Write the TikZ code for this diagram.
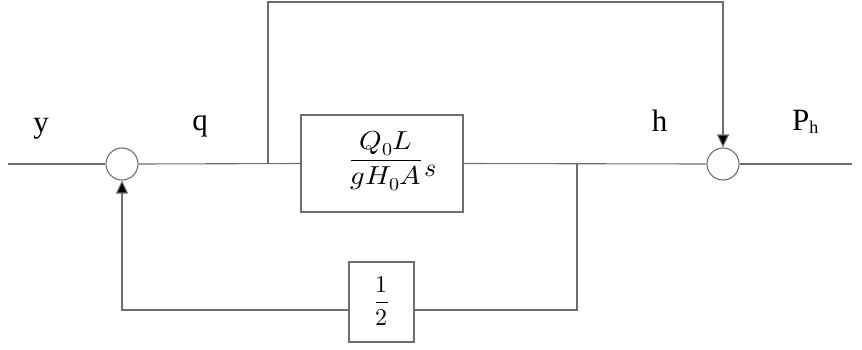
\documentclass[tikz,border=0pt]{standalone}
\usepackage{graphicx}
\usepackage{fontspec}
\usepackage{unicode-math}
\setmainfont{Liberation Serif}
\setmathfont{Latin Modern Math}
\usetikzlibrary{arrows.meta}
\definecolor{ln}{RGB}{110,110,110}
\tikzset{
  wire/.style={draw=ln, line width=1.1pt},
  arr/.style={wire, -{Triangle[length=13pt,width=12pt,fill=black]}},
  sumnode/.style={circle, draw=ln, line width=1.1pt, minimum size=32pt, inner sep=0pt, fill=white},
  blk/.style={rectangle, draw=ln, line width=1.1pt, inner sep=0pt, fill=white},
  lbl/.style={font=\fontsize{31}{36}\selectfont, inner sep=0pt, anchor=base},
  mth/.style={font=\fontsize{26}{30}\selectfont, inner sep=0pt}
}
\begin{document}
\begin{tikzpicture}[x=1pt,y=-1pt]
\useasboundingbox (0,0) rectangle (862,349);
% nodes
\node[sumnode] (s1) at (122,164) {};
\node[sumnode] (s2) at (723,164) {};
\node[blk, minimum width=162pt, minimum height=97pt] (b1) at (382,163.5) {};
\node[mth] (b1t) at (386,161) {\scalebox{1.1}[1]{$\dfrac{Q_0L}{gH_0A}$}};
\node[mth, anchor=base] (b1s) at (431,176) {$s$};
\node[blk, minimum width=65pt, minimum height=80pt] (b2) at (381.5,302) {};
\node[font=\fontsize{24}{28}\selectfont, inner sep=0pt] (b2t) at (381.5,301) {$\dfrac{1}{2}$};
% coordinates
\coordinate (in) at (8,164);
\coordinate (out) at (852,164);
\coordinate (br1) at (268,164);
\coordinate (top1) at (268,2);
\coordinate (top2) at (723,2);
\coordinate (br2) at (577,164);
\coordinate (bot2) at (577,310);
\coordinate (bot1) at (122,310);
% labels
\node[lbl] (ly) at (41,132) {y};
\node[lbl] (lq) at (200,130) {q};
\node[lbl] (lh) at (659.5,131) {h};
\node[lbl, anchor=base west] (lp) at (792,130) {P\raisebox{-3pt}{\fontsize{18}{20}\selectfont h}};
% wires
\draw[wire] (in) -- (s1.west);
\draw[wire] (s1.east) -- (b1.west);
\draw[wire] (b1.east) -- (s2.west);
\draw[wire] (s2.east) -- (out);
\draw[arr] (br1) -- (top1) -- (top2) -- (s2.north);
\draw[wire] (br2) -- (bot2) -- (bot2 -| b2.east);
\draw[arr] (bot2 -| b2.west) -- (bot1) -- (s1.south);
\end{tikzpicture}
\end{document}
